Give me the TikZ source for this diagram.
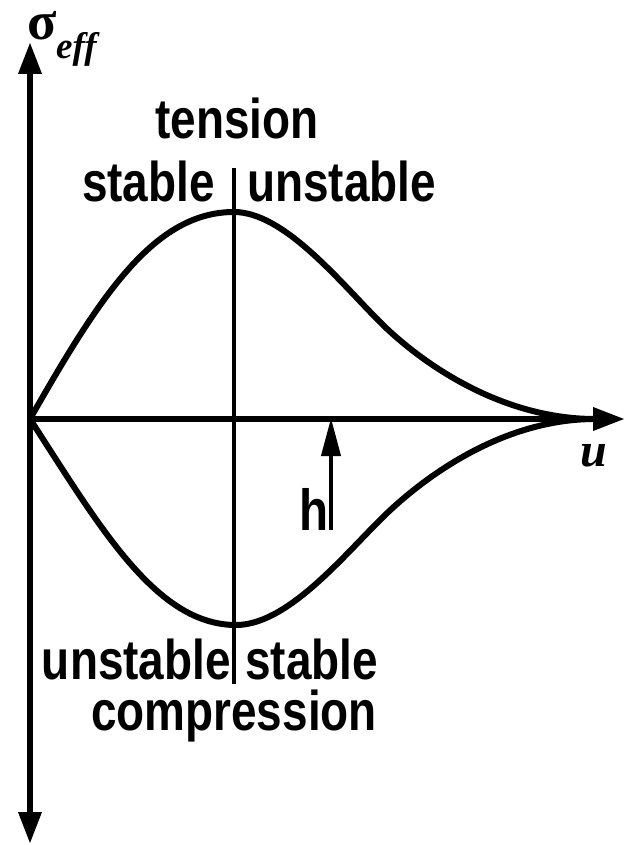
\documentclass[tikz,border=0pt]{standalone}
\usepackage{fontspec}
\usetikzlibrary{arrows.meta}
\newfontfamily\labfont{Liberation Sans}[FakeStretch=0.82]
\newfontfamily\symfont{Liberation Serif}
\tikzset{
  axisline/.style={line width=6.5pt},
  curveline/.style={line width=6pt, line join=round},
  divline/.style={line width=4pt},
  bigtip/.style={-{Triangle[length=32pt,width=22pt]}},
  lab/.style={inner sep=0pt, font=\labfont\bfseries\fontsize{56}{60}\selectfont},
  sym/.style={inner sep=0pt, font=\symfont\bfseries\itshape}
}
\begin{document}
\begin{tikzpicture}[x=1pt,y=-1pt]
\useasboundingbox (0,0) rectangle (625,845);
% axes
\coordinate (O) at (30,419);
\coordinate (ytop) at (30,42);
\coordinate (ybot) at (30,844);
\coordinate (xend) at (625,419);
\draw[axisline,{Triangle[length=32pt,width=22pt]}-{Triangle[length=32pt,width=22pt]}] (ybot) -- (ytop);
\draw[axisline,bigtip] (O) -- (xend);
% curves
\coordinate (peak) at (234,212);
\coordinate (ui) at (380,322);
\coordinate (trough) at (236,625);
\coordinate (li) at (380,520);
\coordinate (tail) at (595,419);
\draw[curveline] (O) .. controls (100,296) and (154,212) .. (peak)
  .. controls (284,212) and (340,282) .. (ui)
  .. controls (420,362) and (500,419) .. (tail);
\draw[curveline] (O) .. controls (100,527) and (156,625) .. (trough)
  .. controls (286,625) and (340,560) .. (li)
  .. controls (420,480) and (500,419) .. (tail);
% dividing line
\coordinate (dtop) at (234,168);
\coordinate (dbot) at (234,684);
\draw[divline] (dtop) -- (dbot);
% h arrow
\coordinate (hbot) at (331,530);
\coordinate (htop) at (331,418);
\draw[line width=4pt,-{Triangle[length=38pt,width=19pt]}] (hbot) -- (htop);
% labels
\node[lab, anchor=base] (tension) at (237,139) {tension};
\node[lab, anchor=base east] (stabT) at (215,201) {stable};
\node[lab, anchor=base west] (unstT) at (247,201) {unstable};
\node[lab, anchor=base east] (unstB) at (231,679) {unstable};
\node[lab, anchor=base west] (stabB) at (245,679) {stable};
\node[lab, anchor=base] (comp) at (234,730) {compression};
\node[inner sep=0pt, font=\labfont\bfseries\fontsize{58}{60}\selectfont, anchor=base] (h) at (314,530) {h};
\node[inner sep=0pt, font=\symfont\bfseries\fontsize{54}{60}\selectfont, anchor=base] (sig) at (42,40) {σ};
\node[sym, font=\symfont\bfseries\itshape\fontsize{37}{40}\selectfont, anchor=base west] (eff) at (56,59) {eff};
\node[sym, font=\symfont\bfseries\itshape\fontsize{48}{50}\selectfont, anchor=base] (u) at (594,466) {u};
\end{tikzpicture}
\end{document}
